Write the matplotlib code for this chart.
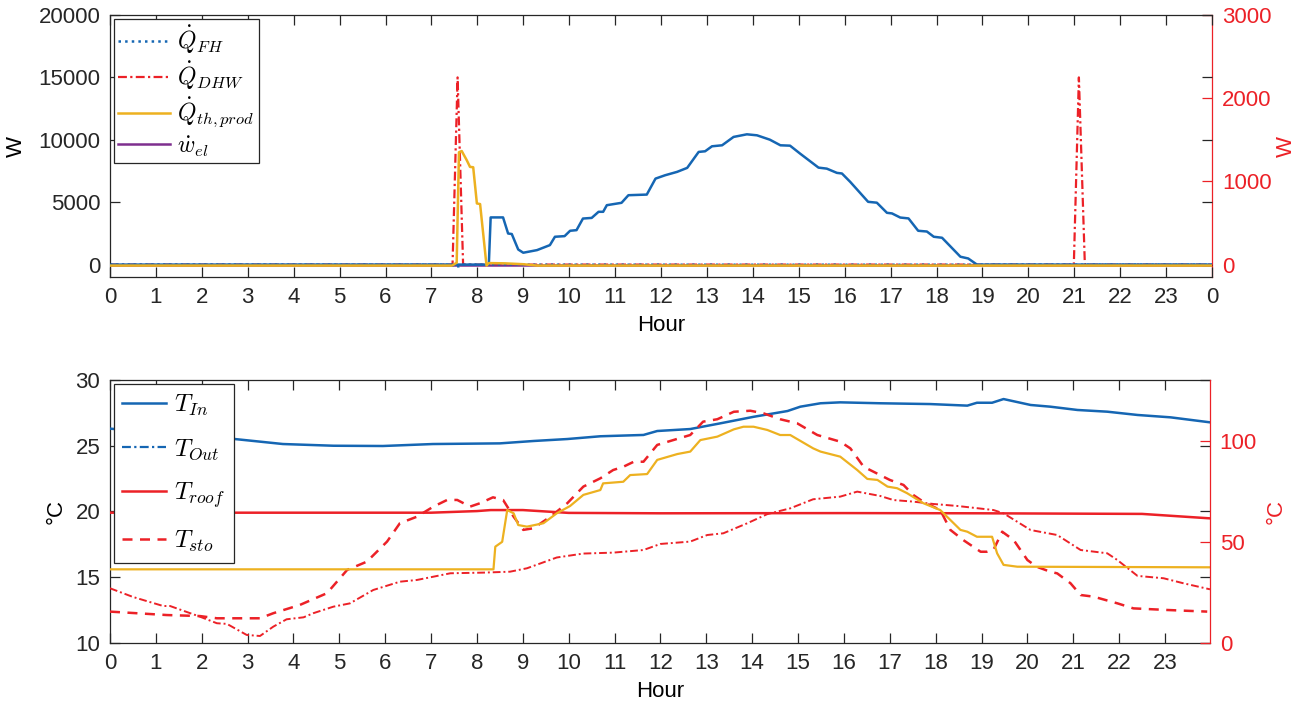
import matplotlib
matplotlib.use("Agg")
import matplotlib.pyplot as plt
from matplotlib.lines import Line2D

plt.rcParams['font.family'] = ['Liberation Sans', 'DejaVu Sans']
plt.rcParams['mathtext.fontset'] = 'cm'

BLUE = '#1566B3'
ORANGE = '#EDB120'
RED = '#EC2127'
PURPLE = '#7E2F8E'
AXC = '#262626'

# ---------------- upper panel: heat flows [W] ----------------
hours_pv = [0, 8.25, 8.29, 8.56, 8.67, 8.75, 8.89, 9.0, 9.3, 9.58, 9.69, 9.9, 10.02,
            10.16, 10.3, 10.49, 10.64, 10.74, 10.82, 11.14, 11.29, 11.69, 11.88, 12.09,
            12.35, 12.57, 12.82, 12.96, 13.11, 13.33, 13.58, 13.87, 14.09, 14.37, 14.6,
            14.81, 15.03, 15.43, 15.61, 15.83, 15.94, 16.12, 16.51, 16.7, 16.92, 17.03,
            17.21, 17.39, 17.6, 17.79, 17.94, 18.12, 18.52, 18.69, 18.88, 24]
p_pv = [0, 0, 3780, 3780, 2490, 2450, 1210, 950, 1160, 1560, 2230, 2280, 2710,
        2760, 3690, 3740, 4230, 4230, 4760, 4950, 5560, 5610, 6890, 7160,
        7430, 7750, 9030, 9080, 9480, 9560, 10230, 10440, 10360, 10010, 9560,
        9530, 8890, 7770, 7690, 7350, 7300, 6630, 5030, 4960, 4150, 4100,
        3770, 3700, 2710, 2650, 2230, 2150, 630, 490, 0, 0]

hours_fh = [0, 7.4, 7.5, 7.6, 7.7, 24]
q_fh = [0, 0, -150, -150, 0, 0]

hours_dhw = [0, 7.46, 7.57, 7.69, 20.99, 21.1, 21.23, 24]
q_dhw = [0, 0, 2250, 0, 0, 2250, 0, 0]

hours_prod = [0, 7.45, 7.55, 7.6, 7.66, 7.77, 7.84, 7.91, 7.99, 8.06, 8.2, 8.25,
              8.6, 9.0, 9.3, 24]
q_th_prod = [-80, -80, 150, 9000, 9100, 8360, 7830, 7800, 4900, 4850, -80, 120,
             100, 30, -80, -80]

hours_el = [0, 24]
w_el = [0, 0]

# ---------------- lower panel: temperatures [degC] ----------------
hours_in = [0, 1, 2, 2.5, 3.77, 4.87, 5.95, 7.04, 8.5, 9.23, 9.97, 10.69, 11.63,
            11.93, 12.65, 13.3, 14.03, 14.77, 15.05, 15.49, 15.92, 16.79, 17.88,
            18.69, 18.9, 19.23, 19.48, 20.07, 20.5, 21.09, 21.74, 22.4, 23.12, 23.98]
t_in = [26.3, 26.0, 25.75, 25.59, 25.13, 25.0, 24.98, 25.13, 25.18, 25.36, 25.51,
        25.72, 25.82, 26.12, 26.27, 26.7, 27.2, 27.64, 27.97, 28.23, 28.3, 28.23,
        28.17, 28.05, 28.27, 28.27, 28.55, 28.1, 27.97, 27.72, 27.59, 27.34, 27.16,
        26.78]

hours_out = [0.0, 0.5, 1.16, 1.31, 1.96, 2.33, 2.55, 2.98, 3.27, 3.56, 3.85, 4.22,
             4.43, 4.87, 5.23, 5.74, 6.32, 6.69, 7.05, 7.42, 8.14, 8.72, 9.09, 9.74,
             10.32, 10.97, 11.63, 12.0, 12.65, 13.02, 13.37, 13.89, 14.33, 14.83,
             15.33, 15.92, 16.29, 16.79, 17.08, 17.51, 17.95, 18.47, 19.26, 19.48,
             20.07, 20.65, 21.16, 21.74, 21.96, 22.4, 22.97, 23.4, 23.98]
t_out = [14.16, 13.5, 12.81, 12.81, 12.0, 11.5, 11.45, 10.61, 10.53, 11.24, 11.8,
         11.95, 12.26, 12.76, 13.01, 14.03, 14.66, 14.79, 15.04, 15.3, 15.35, 15.42,
         15.68, 16.5, 16.8, 16.87, 17.07, 17.53, 17.71, 18.21, 18.34, 19.1, 19.8,
         20.24, 20.93, 21.13, 21.51, 21.18, 20.87, 20.75, 20.57, 20.42, 20.11, 19.86,
         18.59, 18.21, 17.07, 16.82, 16.31, 15.1, 14.92, 14.54, 14.08]

hours_roof = [0, 7.0, 8.0, 8.3, 9.0, 9.5, 10.0, 12, 16, 19, 22.5, 23.98]
t_roof = [64.4, 64.4, 65.2, 65.7, 65.7, 65.0, 64.3, 64.1, 64.2, 64.1, 63.8, 61.6]

hours_sto = [0.0, 1.24, 1.96, 2.33, 3.27, 3.56, 4.14, 4.73, 5.17, 5.6, 6.04, 6.32,
             6.69, 7.05, 7.35, 7.57, 7.85, 8.07, 8.35, 8.57, 8.8, 9.01, 9.23, 9.6,
             9.97, 10.32, 10.69, 10.97, 11.19, 11.42, 11.63, 11.93, 12.28, 12.65,
             12.93, 13.24, 13.6, 13.96, 14.25, 14.61, 14.98, 15.42, 15.92, 16.14,
             16.43, 16.79, 17.0, 17.3, 17.51, 17.73, 18.1, 18.32, 18.6, 18.98, 19.12,
             19.26, 19.45, 19.7, 20.0, 20.2, 20.5, 20.65, 20.94, 21.16, 21.44, 21.96,
             22.31, 23.05, 23.92]
t_sto = [15.5, 13.8, 13.3, 12.2, 12.2, 14.7, 18.8, 24.6, 36.1, 40.2, 50.1, 59.2,
         62.4, 67.4, 70.7, 70.7, 67.4, 69.1, 72.0, 70.7, 62.4, 55.9, 56.7, 62.4,
         69.1, 77.3, 81.4, 85.5, 87.1, 89.6, 89.6, 97.9, 100.3, 102.8, 109.4, 110.6,
         114.3, 114.8, 113.5, 110.6, 108.6, 102.8, 99.5, 96.2, 87.1, 83.0, 80.6,
         78.1, 73.2, 69.8, 65.7, 55.9, 50.9, 45.1, 45.1, 46.0, 55.0, 50.9, 41.0,
         37.7, 35.2, 34.4, 29.5, 23.7, 22.9, 19.6, 17.1, 16.3, 15.5]

hours_coll = [0, 8.36, 8.4, 8.55, 8.66, 8.8, 8.9, 9.09, 9.45, 9.74, 10.03, 10.32,
              10.69, 10.75, 11.19, 11.34, 11.71, 11.93, 12.37, 12.65, 12.87, 13.24,
              13.6, 13.81, 14.03, 14.33, 14.61, 14.83, 15.33, 15.49, 15.92, 16.29,
              16.51, 16.73, 16.95, 17.16, 17.38, 17.73, 18.1, 18.32, 18.54, 18.69,
              18.9, 19.23, 19.34, 19.48, 19.78, 23.98]
t_coll = [36.4, 36.4, 47.6, 50.0, 65.7, 64.1, 58.3, 57.5, 59.2, 64.1, 67.7, 73.2,
          75.6, 78.9, 79.7, 83.0, 83.5, 90.5, 93.4, 94.6, 100.3, 102.0, 105.6, 106.9,
          106.9, 105.3, 102.8, 102.8, 96.2, 94.6, 92.1, 85.5, 81.1, 80.6, 77.3, 76.5,
          74.0, 69.1, 65.7, 60.8, 55.9, 55.0, 52.5, 52.5, 44.3, 38.6, 37.7, 37.4]

top_xticks = list(range(25))
top_xlabels = [str(h % 24) for h in top_xticks]
bot_xticks = list(range(24))
bot_xlabels = [str(h) for h in bot_xticks]

FS = 16

fig = plt.figure(figsize=(12.97, 7.05), dpi=100)
ax1 = fig.add_axes([0.0848, 0.607, 0.8497, 0.3717])
ax1r = ax1.twinx()
ax2 = fig.add_axes([0.0848, 0.088, 0.8481, 0.373])
ax2r = ax2.twinx()


def style(ax, axr):
    ax.tick_params(axis='both', direction='in', length=7, width=0.9, colors=AXC,
                   labelsize=FS, top=True, right=True, pad=7)
    axr.tick_params(axis='y', direction='in', length=7, width=0.9, colors=RED,
                    labelsize=FS, pad=7)
    for s in ('left', 'top', 'bottom'):
        ax.spines[s].set_color(AXC)
        ax.spines[s].set_linewidth(0.9)
    for s in ('left', 'top', 'bottom', 'right'):
        axr.spines[s].set_visible(s == 'right')
    axr.spines['right'].set_color(RED)
    axr.spines['right'].set_linewidth(0.9)
    ax.spines['right'].set_visible(False)


# upper panel
ax1.plot(hours_el, w_el, color=PURPLE, lw=1.8, zorder=1)
ax1.plot(hours_pv, p_pv, color=BLUE, lw=1.8, zorder=2)
ax1.plot(hours_fh, q_fh, color=BLUE, lw=1.6, ls=':', zorder=3)
ax1.plot(hours_prod, q_th_prod, color=ORANGE, lw=1.8, zorder=3)
ax1r.plot(hours_dhw, q_dhw, color=RED, lw=1.6, ls='-.', dashes=(4, 1.5, 1, 1.5))
ax1.set_xlim(0, 24)
ax1.set_ylim(-1000, 20000)
ax1r.set_ylim(-150, 3000)
ax1.set_xticks(top_xticks)
ax1.set_xticklabels(top_xlabels)
ax1.set_yticks([0, 5000, 10000, 15000, 20000])
ax1r.set_yticks([0, 1000, 2000, 3000])
ax1.set_xlabel('Hour', fontsize=FS, labelpad=5)
ax1.set_ylabel('W', fontsize=FS, labelpad=8)
ax1r.set_ylabel('W', fontsize=FS, color=RED, labelpad=3)
style(ax1, ax1r)
ax1.set_zorder(ax1r.get_zorder() + 1)
ax1.patch.set_visible(False)

h_top = [Line2D([], [], color=BLUE, lw=1.8, ls=':'),
         Line2D([], [], color=RED, lw=1.6, ls='-.', dashes=(4, 1.5, 1, 1.5)),
         Line2D([], [], color=ORANGE, lw=1.8),
         Line2D([], [], color=PURPLE, lw=1.8)]
l_top = [r'$\dot{Q}_{FH}$', r'$\dot{Q}_{DHW}$', r'$\dot{Q}_{th,prod}$', r'$\dot{w}_{el}$']
leg1 = ax1.legend(h_top, l_top, loc='upper left', fontsize=17, frameon=True,
                  fancybox=False, framealpha=1, edgecolor=AXC, handlelength=2.2,
                  handletextpad=0.3, labelspacing=0.15, borderpad=0.2,
                  borderaxespad=0.15)
leg1.get_frame().set_linewidth(0.9)

# lower panel
ax2.plot(hours_in, t_in, color=BLUE, lw=1.8, zorder=3)
ax2.plot(hours_out, t_out, color=RED, lw=1.4, ls='-.', dashes=(4, 1.5, 1, 1.5), zorder=3)
ax2r.plot(hours_roof, t_roof, color=RED, lw=1.8)
ax2r.plot(hours_sto, t_sto, color=RED, lw=1.8, ls='--', dashes=(4, 3))
ax2r.plot(hours_coll, t_coll, color=ORANGE, lw=1.6)
ax2.set_xlim(0, 23.98)
ax2.set_ylim(10, 30)
ax2r.set_ylim(0, 130)
ax2.set_xticks(bot_xticks)
ax2.set_xticklabels(bot_xlabels)
ax2.set_yticks([10, 15, 20, 25, 30])
ax2r.set_yticks([0, 50, 100])
ax2.set_xlabel('Hour', fontsize=FS, labelpad=5)
ax2.set_ylabel('°C', fontsize=FS, labelpad=6)
ax2r.set_ylabel('°C', fontsize=FS, color=RED, labelpad=6)
style(ax2, ax2r)

h_bot = [Line2D([], [], color=BLUE, lw=1.8),
         Line2D([], [], color=BLUE, lw=1.6, ls='-.', dashes=(4, 1.5, 1, 1.5)),
         Line2D([], [], color=RED, lw=1.8),
         Line2D([], [], color=RED, lw=1.8, ls='--', dashes=(4, 3))]
l_bot = [r'$T_{In}$', r'$T_{Out}$', r'$T_{roof}$', r'$T_{sto}$']
leg2 = ax2r.legend(h_bot, l_bot, loc='upper left', fontsize=18, frameon=True,
                   fancybox=False, framealpha=1, edgecolor=AXC, handlelength=1.75,
                   handletextpad=0.3, labelspacing=0.75, borderpad=0.35,
                   borderaxespad=0.15)
leg2.get_frame().set_linewidth(0.9)

fig.savefig('out.png', dpi=100, facecolor='white')
